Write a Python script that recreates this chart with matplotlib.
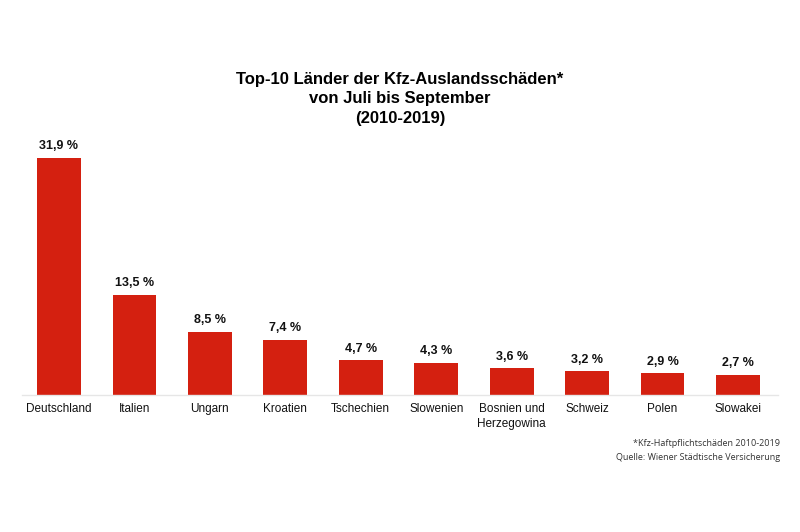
import matplotlib.pyplot as plt

laender = ["Deutschland", "Italien", "Ungarn", "Kroatien", "Tschechien",
           "Slowenien", "Bosnien und\nHerzegowina", "Schweiz", "Polen", "Slowakei"]
anteile = [31.9, 13.5, 8.5, 7.4, 4.7, 4.3, 3.6, 3.2, 2.9, 2.7]

plt.rcParams["font.family"] = ["Liberation Sans", "DejaVu Sans"]

fig = plt.figure(figsize=(8, 5.32), dpi=100)
ax = fig.add_axes([0.0275, 0.2575, 0.945, 0.489])

x = range(len(laender))
bars = ax.bar(x, anteile, width=0.58, color="#D42010", zorder=2)
for b, v in zip(bars, anteile):
    ax.text(b.get_x() + b.get_width() / 2, v + 0.75, f"{v:.1f} %".replace(".", ","),
            ha="center", va="bottom", fontsize=9, fontweight="bold", color="#111111")

ax.set_xlim(-0.49, 9.53)
ax.set_ylim(0, 35)
ax.set_xticks(list(x))
ax.set_xticklabels(laender, fontsize=8.5, color="#111111", linespacing=1.3)
ax.tick_params(axis="x", length=0, pad=6)
ax.set_yticks([])
for s in ["top", "right", "left"]:
    ax.spines[s].set_visible(False)
ax.spines["bottom"].set_color("#e6e6e6")
ax.spines["bottom"].set_linewidth(1)

fig.text(0.5, 0.814, "Top-10 Länder der Kfz-Auslandsschäden*\nvon Juli bis September\n(2010-2019)",
         ha="center", va="center", fontsize=12, fontweight="bold", linespacing=1.35)

fig.text(0.975, 0.153, "*Kfz-Haftpflichtschäden 2010-2019\nQuelle: Wiener Städtische Versicherung",
         ha="right", va="center", fontsize=6.5, family=["Open Sans", "DejaVu Sans"],
         color="#333333", linespacing=1.7)

fig.savefig("out.png", dpi=100, facecolor="white")
